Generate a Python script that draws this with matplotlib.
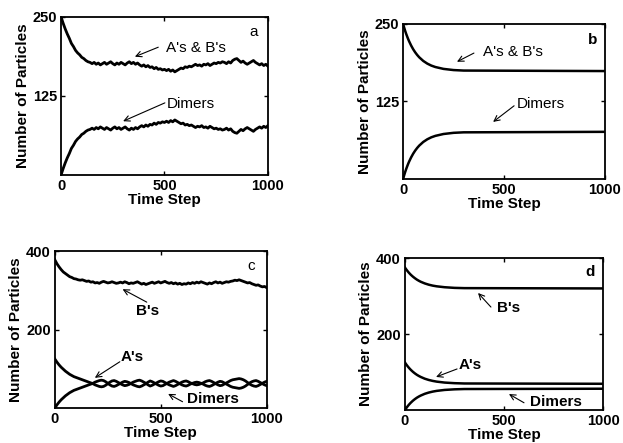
import matplotlib.pyplot as plt

plt.rcParams['font.family'] = ['Liberation Sans', 'DejaVu Sans']

# ---- panel a (simulation, A=B) ----
t_noisy = list(range(0, 1001, 10))
ab_a = [250, 240, 231, 223, 216, 208, 203, 197, 193, 190,
        186, 184, 181, 179, 178, 176, 178, 175, 177, 174,
        176, 178, 175, 177, 179, 176, 174, 177, 175, 178,
        176, 174, 177, 179, 176, 178, 175, 177, 174, 172,
        174, 171, 173, 170, 171, 168, 170, 167, 168, 166,
        167, 165, 167, 164, 166, 163, 165, 167, 169, 168,
        171, 170, 172, 171, 173, 175, 173, 174, 172, 175,
        174, 176, 173, 175, 177, 176, 178, 177, 179, 178,
        176, 179, 177, 181, 183, 184, 181, 178, 180, 177,
        175, 177, 179, 181, 178, 176, 174, 176, 173, 175, 172]
dim_a = [0, 10, 19, 27, 34, 42, 47, 53, 57, 60,
         64, 66, 69, 71, 72, 74, 72, 75, 73, 76,
         74, 72, 75, 73, 71, 74, 76, 73, 75, 72,
         74, 76, 73, 71, 74, 72, 75, 73, 76, 78,
         76, 79, 77, 80, 79, 82, 80, 83, 82, 84,
         83, 85, 83, 86, 84, 87, 85, 83, 81, 82,
         79, 80, 78, 79, 77, 75, 77, 76, 78, 75,
         76, 74, 77, 75, 73, 74, 72, 73, 71, 72,
         74, 71, 73, 69, 67, 66, 69, 72, 70, 73,
         75, 73, 71, 69, 72, 74, 76, 74, 77, 75, 78]

# ---- panel b (model, A=B) ----
t_smooth = [0, 5, 10, 15, 20, 25, 30, 40, 50, 60, 70, 80, 100, 120, 140, 160, 200, 250, 300, 1000]
ab_b = [250, 244.4, 239.1, 234.3, 229.9, 225.7, 221.9, 215.1, 209.2, 204.2,
        199.9, 196.2, 190.3, 186.0, 182.8, 180.5, 177.5, 175.6, 174.8, 174]
dim_b = [0, 5.6, 10.9, 15.7, 20.1, 24.3, 28.1, 34.9, 40.8, 45.8,
         50.1, 53.8, 59.7, 64.0, 67.2, 69.5, 72.5, 74.4, 75.2, 76]

# ---- panel c (simulation, B excess) ----
b_c = [378, 368, 360, 353, 347, 343, 339, 335, 333, 330,
       329, 327, 326, 327, 325, 323, 324, 321, 322, 319,
       320, 318, 321, 323, 321, 319, 320, 322, 320, 318,
       319, 321, 319, 322, 320, 317, 319, 318, 320, 322,
       319, 316, 318, 315, 317, 319, 321, 318, 320, 322,
       319, 321, 323, 320, 318, 320, 317, 319, 316, 318,
       315, 317, 316, 319, 317, 320, 318, 321, 319, 322,
       320, 318, 316, 319, 317, 320, 322, 319, 321, 318,
       320, 322, 321, 323, 324, 326, 325, 327, 325, 323,
       321, 319, 320, 317, 315, 313, 314, 311, 309, 310, 307]
a_c = [125, 117, 110, 104, 99, 94, 90, 86, 83, 80,
       78, 76, 74, 72, 70, 68, 66, 64, 62, 59,
       57, 55, 54, 55, 58, 62, 66, 69, 70, 68,
       65, 62, 59, 57, 58, 60, 63, 66, 68, 70,
       71, 69, 66, 63, 59, 56, 58, 61, 64, 67,
       69, 68, 65, 62, 59, 57, 55, 57, 60, 63,
       66, 68, 69, 67, 64, 62, 60, 59, 60, 62,
       64, 67, 69, 70, 68, 65, 62, 59, 57, 58,
       61, 64, 67, 70, 72, 73, 74, 75, 74, 72,
       69, 65, 61, 58, 56, 55, 57, 60, 63, 66, 68]
dim_c = [0, 8, 15, 21, 26, 31, 35, 39, 42, 45,
         47, 49, 51, 53, 55, 57, 59, 61, 63, 66,
         68, 70, 71, 70, 67, 63, 59, 56, 55, 57,
         60, 63, 66, 68, 67, 65, 62, 59, 57, 55,
         54, 56, 59, 62, 66, 69, 67, 64, 61, 58,
         56, 57, 60, 63, 66, 68, 70, 68, 65, 62,
         59, 57, 56, 58, 61, 63, 65, 66, 65, 63,
         61, 58, 56, 55, 57, 60, 63, 66, 68, 67,
         64, 61, 58, 55, 53, 52, 51, 50, 51, 53,
         56, 60, 64, 67, 69, 70, 68, 65, 62, 59, 57]

# ---- panel d (model, B excess) ----
b_d = [375, 371.2, 367.7, 364.4, 361.3, 358.5, 355.8, 351.1, 347.0, 343.3,
       340.2, 337.5, 333.2, 329.9, 327.4, 325.6, 323.2, 321.5, 320.8, 320]
a_d = [125, 121.1, 117.6, 114.2, 111.1, 108.2, 105.5, 100.6, 96.4, 92.7,
       89.6, 86.9, 82.4, 79.1, 76.6, 74.7, 72.2, 70.6, 69.8, 69]
dim_d = [0, 3.9, 7.4, 10.8, 13.9, 16.8, 19.5, 24.4, 28.6, 32.3,
         35.4, 38.1, 42.6, 45.9, 48.4, 50.3, 52.8, 54.4, 55.2, 56]

fig = plt.figure(figsize=(6.23, 4.43), dpi=100)
ax_a = fig.add_axes([0.098, 0.605, 0.332, 0.357])
ax_b = fig.add_axes([0.647, 0.596, 0.324, 0.350])
ax_c = fig.add_axes([0.088, 0.079, 0.340, 0.354])
ax_d = fig.add_axes([0.650, 0.0745, 0.318, 0.343])


def style(ax, ymax, yt):
    ax.set_xlim(0, 1000)
    ax.set_ylim(0, ymax)
    ax.set_xticks([0, 500, 1000])
    ax.set_yticks(yt)
    ax.tick_params(direction='in', top=True, right=True, length=3,
                   width=1, labelsize=10.5, pad=3)
    for lab in ax.get_xticklabels() + ax.get_yticklabels():
        lab.set_fontweight('bold')
    for s in ax.spines.values():
        s.set_linewidth(1.3)
    ax.set_xlabel('Time Step', fontsize=11, fontweight='bold', labelpad=0)
    ax.set_ylabel('Number of Particles', fontsize=11, fontweight='bold', labelpad=2)


def note(ax, txt, xy, xytext, tail, weight='bold', ha='left'):
    ax.annotate('', xy=xy, xytext=tail,
                arrowprops=dict(arrowstyle='->', lw=0.8, color='black',
                                shrinkA=0, shrinkB=0))
    ax.text(xytext[0], xytext[1], txt, fontsize=11, fontweight=weight,
            ha=ha, va='center')


ax_a.plot(t_noisy, ab_a, color='black', lw=2)
ax_a.plot(t_noisy, dim_a, color='black', lw=2)
style(ax_a, 250, [125, 250])
note(ax_a, "A's & B's", (357, 187), (505, 201), (470, 202), weight='normal')
note(ax_a, "Dimers", (300, 85), (512, 112), (502, 114), weight='normal')
ax_a.text(932, 226, 'a', fontsize=11, ha='center', va='center')

ax_b.plot(t_smooth, ab_b, color='black', lw=1.8)
ax_b.plot(t_smooth, dim_b, color='black', lw=1.8)
style(ax_b, 250, [125, 250])
note(ax_b, "A's & B's", (267, 189), (396, 205), (351, 203), weight='normal')
note(ax_b, "Dimers", (446, 92), (564, 121), (550, 118), weight='normal')
ax_b.text(940, 224, 'b', fontsize=11, fontweight='bold', ha='center', va='center')

ax_c.plot(t_noisy, b_c, color='black', lw=2)
ax_c.plot(t_noisy, a_c, color='black', lw=2)
ax_c.plot(t_noisy, dim_c, color='black', lw=2)
style(ax_c, 400, [200, 400])
note(ax_c, "B's", (320, 303), (439, 248), (434, 270), ha='center')
note(ax_c, "A's", (189, 77), (363, 131), (307, 118), ha='center')
note(ax_c, "Dimers", (535, 36), (622, 23), (603, 16))
ax_c.text(929, 362, 'c', fontsize=11, ha='center', va='center')

ax_d.plot(t_smooth, b_d, color='black', lw=1.8)
ax_d.plot(t_smooth, a_d, color='black', lw=1.8)
ax_d.plot(t_smooth, dim_d, color='black', lw=1.8)
style(ax_d, 400, [200, 400])
note(ax_d, "B's", (369, 308), (465, 268), (434, 271))
note(ax_d, "A's", (157, 87), (273, 118), (263, 108))
note(ax_d, "Dimers", (525, 42), (631, 22), (601, 19))
ax_d.text(934, 363, 'd', fontsize=11, fontweight='bold', ha='center', va='center')

fig.savefig('out.png', dpi=100)
